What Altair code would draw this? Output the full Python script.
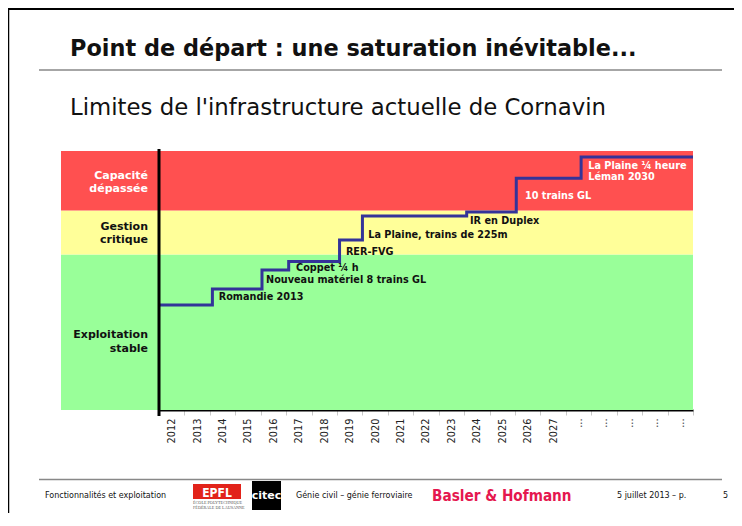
import json
import altair as alt
import pandas as pd

# ---------------- data ----------------
tick_labels = [str(y) for y in range(2012, 2028)] + ["..."] * 5   # 21 categories

band_low = [0, 60, 77]
band_high = [60, 77, 100]
band_colors = ["#99FF99", "#FFFF99", "#FF5050"]

band_label_lines = ["Capacité", "dépassée", "Gestion", "critique", "Exploitation", "stable"]
band_label_y = [90.2, 85.4, 70.7, 65.6, 29.0, 23.6]
band_label_colors = ["white", "white", "#111111", "#111111", "#111111", "#111111"]

step_x = [2012.0, 2014.1, 2016.05, 2017.1, 2019.1, 2020.0, 2024.1, 2026.05, 2028.6, 2033.0]
step_level = [40.5, 46.7, 54.1, 57.3, 65.6, 74.9, 76.4, 89.5, 97.7, 97.7]

event_labels = ["Romandie 2013", "Nouveau matériel 8 trains GL", "Coppet ¼ h", "RER-FVG",
                "La Plaine, trains de 225m", "IR en Duplex", "10 trains GL",
                "La Plaine ¼ heure", "Léman 2030"]
event_x = [2014.35, 2016.21, 2017.39, 2019.35, 2020.23, 2024.23, 2026.39, 2028.88, 2028.88]
event_y = [43.5, 50.2, 54.7, 61.1, 67.6, 73.1, 82.6, 94.3, 89.8]
event_colors = ["#111111"] * 6 + ["white"] * 3

# ---------------- scales / axes ----------------
W, H = 632, 259
xscale = alt.Scale(domain=[2012, 2033], range=[98, 632], nice=False, zero=False)
yscale = alt.Scale(domain=[0, 100], nice=False, zero=False)
label_expr = json.dumps(tick_labels) + "[round(datum.value) - 2012] || ''"
xaxis = alt.Axis(values=list(range(2012, 2034)), labelExpr=label_expr, labelAngle=270,
                 labelOffset=12.7, labelPadding=3, labelFont="DejaVu Sans", labelFontSize=9.8,
                 labelColor="#222222", tickColor="#c8c8c8", tickSize=5, tickWidth=1,
                 domainColor="black", domainWidth=2, grid=False, title=None,
                 labelFlush=False, labelOverlap=False, labelBound=False)


def X(f):
    return alt.X(f, type="quantitative", scale=xscale, axis=xaxis)


def Y(f):
    return alt.Y(f, type="quantitative", scale=yscale, axis=None)


bands = pd.DataFrame({"lo": band_low, "hi": band_high, "color": band_colors})
band_lbl = pd.DataFrame({"x": [2012] * 6, "y": band_label_y, "t": band_label_lines,
                         "color": band_label_colors})
steps = pd.DataFrame({"x": step_x, "level": step_level})
events = pd.DataFrame({"x": event_x, "y": event_y, "t": event_labels, "color": event_colors})

band_layer = alt.Chart(bands).mark_rect().encode(
    x=alt.value(0), x2=alt.value(W), y=Y("lo"), y2="hi",
    color=alt.Color("color:N", scale=None))

yaxis_rule = alt.Chart(pd.DataFrame({"x": [2012]})).mark_rule(
    color="black", strokeWidth=3).encode(x=X("x"), y=alt.value(-2), y2=alt.value(265))

line = alt.Chart(steps).mark_line(interpolate="step-after", color="#333399",
                                  strokeWidth=3).encode(x=X("x"), y=Y("level"))

band_text = alt.Chart(band_lbl).mark_text(
    align="right", baseline="middle", dx=-11, font="DejaVu Sans", fontWeight="bold",
    fontSize=11).encode(x=X("x"), y=Y("y"), text="t:N", color=alt.Color("color:N", scale=None))

event_text = alt.Chart(events).mark_text(
    align="left", baseline="middle", font="DejaVu Sans", fontWeight="bold",
    fontSize=9.7).encode(x=X("x"), y=Y("y"), text="t:N", color=alt.Color("color:N", scale=None))

one = pd.DataFrame({"a": [0]})


def rule(x, x2, y, y2, color, w):
    return alt.Chart(one).mark_rule(color=color, strokeWidth=w).encode(
        x=alt.value(x), x2=alt.value(x2), y=alt.value(y), y2=alt.value(y2))


def txt(s, x, y, size, weight="normal", color="#111111", font="DejaVu Sans", align="left"):
    return alt.Chart(one).mark_text(text=s, align=align, baseline="alphabetic", fontSize=size,
                                    fontWeight=weight, color=color, font=font).encode(
        x=alt.value(x), y=alt.value(y))


def box(x, x2, y, y2, color):
    return alt.Chart(one).mark_rect(color=color).encode(
        x=alt.value(x), x2=alt.value(x2), y=alt.value(y), y2=alt.value(y2))


NARROW = "Liberation Sans Narrow, DejaVu Sans Condensed, sans-serif"

deco = [
    rule(-52.5, -52.5, -143, 362, "black", 1.5),
    rule(-53, 673, -142, -142, "black", 2),
    txt("Point de départ : une saturation inévitable...", 9, -95, 22.4, "bold"),
    rule(-22, 661, -81, -81, "#888888", 1.5),
    txt("Limites de l'infrastructure actuelle de Cornavin", 9, -36, 22.8),
    rule(-22, 661, 328.5, 328.5, "#888888", 1.5),
    txt("Fonctionnalités et exploitation", -16, 347, 8),
    box(132, 180, 333, 348, "#E2231A"),
    txt("EPFL", 156, 346, 12, "bold", "white", NARROW, "center"),
    txt("ÉCOLE POLYTECHNIQUE", 132, 353, 4.2, "normal", "#555555", "Liberation Serif"),
    txt("FÉDÉRALE DE LAUSANNE", 132, 358, 4.2, "normal", "#555555", "Liberation Serif"),
    box(191, 220, 330, 359, "black"),
    txt("citec", 205.5, 348, 11, "bold", "white", "DejaVu Sans", "center"),
    txt("Génie civil – génie ferroviaire", 235, 347, 8),
    txt("Basler & Hofmann", 371, 350, 15.2, "bold", "#E5174F", NARROW),
    txt("5 juillet 2013 – p.", 556, 347, 8),
    txt("5", 662, 347, 8),
]

chart = alt.layer(band_layer, line, yaxis_rule, band_text, event_text, *deco).properties(
    width=W, height=H,
    padding={"left": 53, "top": 143, "right": 41, "bottom": 103},
    autosize=alt.AutoSizeParams(type="none"),
    background="white",
).configure_view(stroke=None)

chart.save("out.html", embed_options={"renderer": "svg", "actions": False})
